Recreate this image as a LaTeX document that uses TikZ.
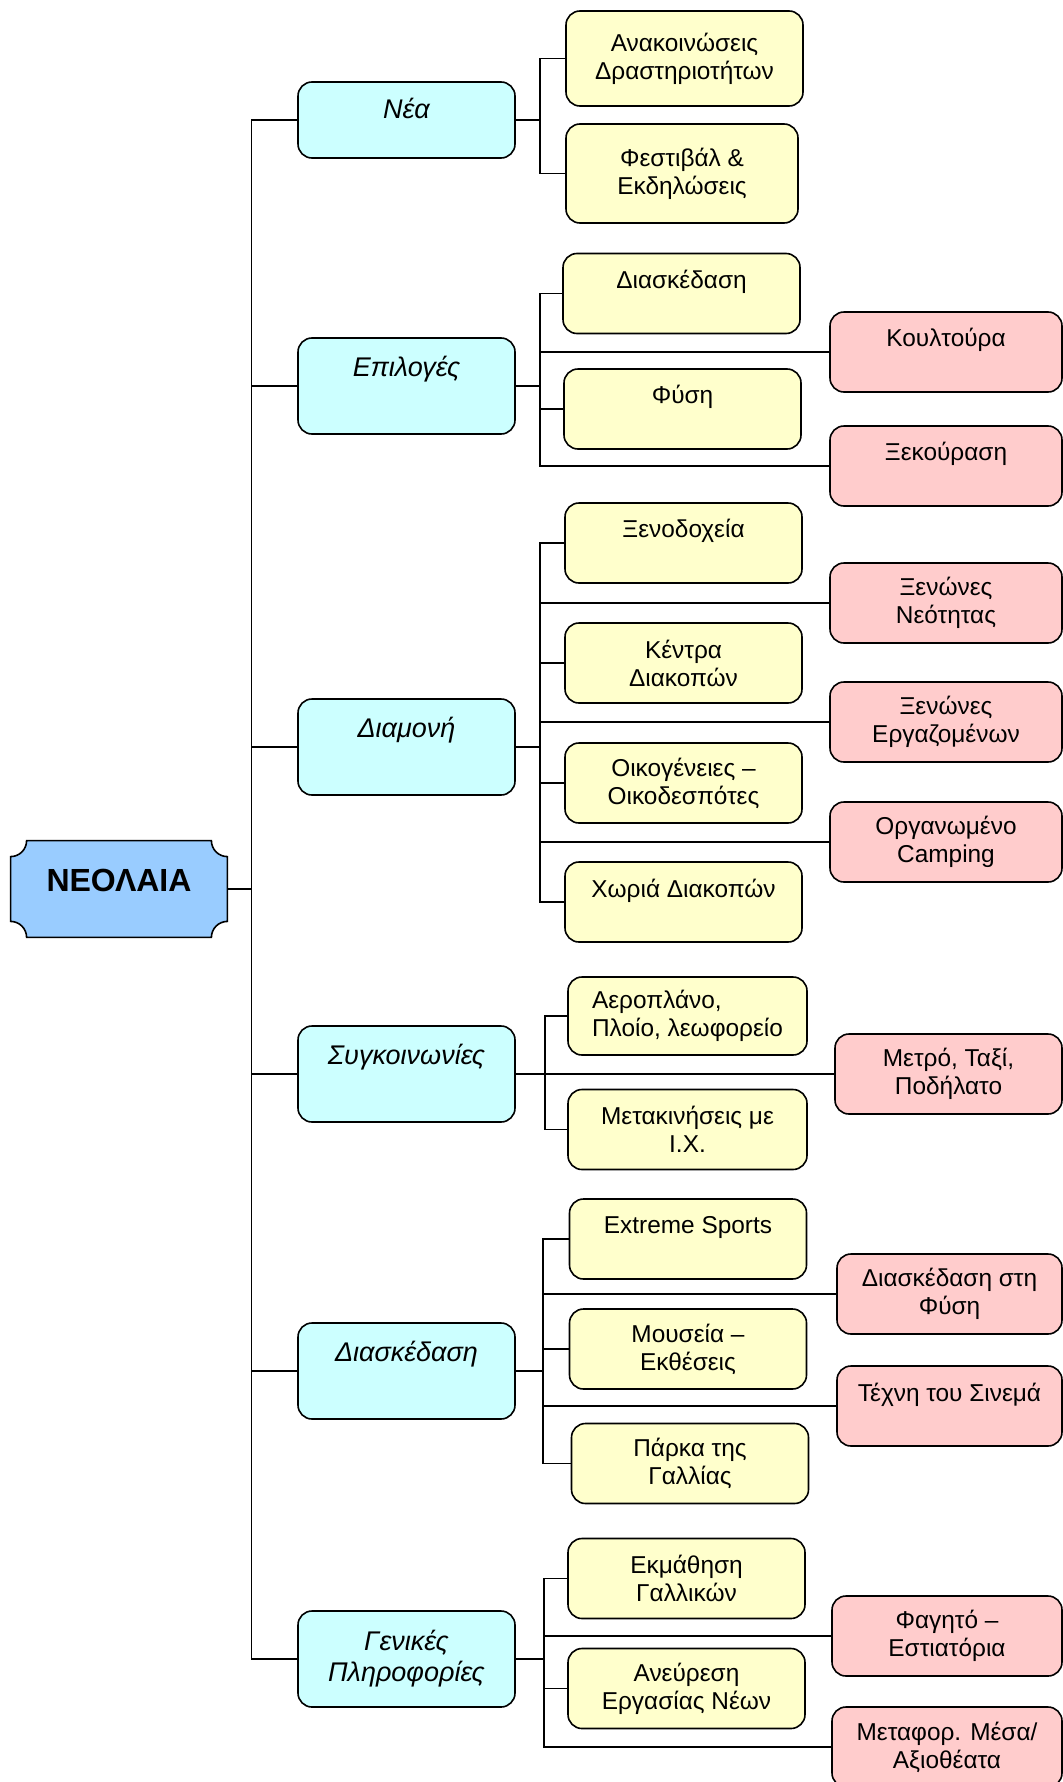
\documentclass[tikz,border=0pt]{standalone}
\usepackage{fontspec}
\setmainfont{Liberation Sans}
\usetikzlibrary{backgrounds}
\definecolor{rootblue}{HTML}{99CCFF}
\definecolor{topicblue}{HTML}{CCFFFF}
\definecolor{itemyellow}{HTML}{FFFFCC}
\definecolor{extrapink}{HTML}{FFCCCC}

\begin{document}
\begin{tikzpicture}[x=0.5pt,y=-0.5pt,
    every node/.style={inner sep=0pt,align=center},
    rootbox/.style={minimum width=108pt,minimum height=48pt,text depth=9pt,font=\fontsize{16}{18}\selectfont\bfseries},
    rootframe/.style={draw=black,line width=0.8pt,fill=rootblue},
    topicbox/.style={draw,line width=0.8pt,rounded corners=7pt,fill=topicblue,minimum width=108.5pt,minimum height=48pt,font=\fontsize{13.5}{15.5}\selectfont\itshape},
    itembox/.style={draw,line width=0.8pt,rounded corners=7pt,fill=itemyellow,minimum width=118.5pt,minimum height=40pt,font=\fontsize{12.2}{14}\selectfont},
    extrabox/.style={draw,line width=0.8pt,rounded corners=7pt,fill=extrapink,minimum width=116pt,minimum height=40pt,font=\fontsize{12.2}{14}\selectfont},
    link/.style={line width=0.8pt}]
  \useasboundingbox (0,0) rectangle (1063,1782);
  \node[rootbox] (root) at (119,889) {ΝΕΟΛΑΙΑ};
  \begin{scope}[on background layer]
    \draw[rootframe] ([xshift=8pt]root.north west) -- ([xshift=-8pt]root.north east)
      arc[start angle=180,end angle=270,radius=8pt] -- ([yshift=8pt]root.south east)
      arc[start angle=90,end angle=180,radius=8pt] -- ([xshift=8pt]root.south west)
      arc[start angle=0,end angle=90,radius=8pt] -- ([yshift=-8pt]root.north west)
      arc[start angle=270,end angle=360,radius=8pt] -- cycle;
  \end{scope}

  \node[topicbox,minimum height=38pt] (nea) at (406.5,120) {Νέα\\[-8pt]\strut};
  \node[topicbox] (epiloges) at (406.5,386) {Επιλογές\\\strut};
  \node[topicbox] (diamoni) at (406.5,747) {Διαμονή\\\strut};
  \node[topicbox] (sygkoinonies) at (406.5,1074) {Συγκοινωνίες\\\strut};
  \node[topicbox] (diaskedasi) at (406.5,1371) {Διασκέδαση\\\strut};
  \node[topicbox] (genikes) at (406.5,1659) {Γενικές\\Πληροφορίες};

  \node[itembox,minimum height=47.5pt] (anakoinoseis) at (684.5,58.5) {Ανακοινώσεις\\Δραστηριοτήτων};
  \node[itembox,minimum width=116pt,minimum height=49.5pt] (festival) at (682,173.5) {Φεστιβάλ \&\\Εκδηλώσεις};

  \node[itembox] (epil-diaskedasi) at (681.5,293.5) {Διασκέδαση\\[-4pt]\strut};
  \node[extrabox] (koultoura) at (946,352) {Κουλτούρα\\[-4pt]\strut};
  \node[itembox] (fysi) at (682.5,409) {Φύση\\[-4pt]\strut};
  \node[extrabox] (xekourasi) at (946,466) {Ξεκούραση\\[-4pt]\strut};

  \node[itembox] (xenodoxeia) at (683.5,543) {Ξενοδοχεία\\[-4pt]\strut};
  \node[extrabox] (xenones-neot) at (946,603) {Ξενώνες\\Νεότητας};
  \node[itembox] (kentra) at (683.5,663) {Κέντρα\\Διακοπών};
  \node[extrabox] (xenones-ergaz) at (946,722) {Ξενώνες\\Εργαζομένων};
  \node[itembox] (oikogeneies) at (683.5,783) {Οικογένειες –\\Οικοδεσπότες};
  \node[extrabox] (camping) at (946,842) {Οργανωμένο\\Camping};
  \node[itembox] (xoria) at (683.5,902) {Χωριά Διακοπών\\[-4pt]\strut};

  \node[itembox,align=left,minimum width=119.5pt,minimum height=39pt] (aeroplano) at (687.5,1016) {Αεροπλάνο,\\Πλοίο, λεωφορείο};
  \node[itembox,minimum width=119.5pt] (metakiniseis) at (687.5,1129.5) {Μετακινήσεις με\\Ι.Χ.};
  \node[extrabox,minimum width=113.5pt] (metro) at (948.5,1074) {Μετρό, Ταξί,\\Ποδήλατο};

  \node[itembox] (extreme) at (688,1239) {Extreme Sports\\[-4pt]\strut};
  \node[extrabox,minimum width=112.5pt] (diask-fysi) at (949.5,1294) {Διασκέδαση στη\\Φύση};
  \node[itembox] (mouseia) at (688,1349) {Μουσεία –\\Εκθέσεις};
  \node[extrabox,minimum width=112.5pt] (sinema) at (949.5,1406) {Τέχνη του Σινεμά\\[-4pt]\strut};
  \node[itembox] (parka) at (690,1463.5) {Πάρκα της\\Γαλλίας};

  \node[itembox] (ekmathisi) at (686.5,1578.5) {Εκμάθηση\\Γαλλικών};
  \node[extrabox,minimum width=115pt] (fagito) at (947,1636) {Φαγητό –\\Εστιατόρια};
  \node[itembox] (anevresi) at (686.5,1688.5) {Ανεύρεση\\Εργασίας Νέων};
  \node[extrabox,minimum width=115pt] (metafores) at (947,1747) {Μεταφορ. Μέσα/\\Αξιοθέατα};

  \draw[link] (root.east) -- ++(24,0) |- (nea.west);
  \draw[link] (root.east) -- ++(24,0) |- (epiloges.west);
  \draw[link] (root.east) -- ++(24,0) |- (diamoni.west);
  \draw[link] (root.east) -- ++(24,0) |- (sygkoinonies.west);
  \draw[link] (root.east) -- ++(24,0) |- (diaskedasi.west);
  \draw[link] (root.east) -- ++(24,0) |- (genikes.west);

  \draw[link] (nea.east) -- ++(24,0) |- (anakoinoseis.west);
  \draw[link] (nea.east) -- ++(24,0) |- (festival.west);

  \draw[link] (epiloges.east) -- ++(24,0) |- (epil-diaskedasi.west);
  \draw[link] (epiloges.east) -- ++(24,0) |- (koultoura.west);
  \draw[link] (epiloges.east) -- ++(24,0) |- (fysi.west);
  \draw[link] (epiloges.east) -- ++(24,0) |- (xekourasi.west);

  \draw[link] (diamoni.east) -- ++(24,0) |- (xenodoxeia.west);
  \draw[link] (diamoni.east) -- ++(24,0) |- (xenones-neot.west);
  \draw[link] (diamoni.east) -- ++(24,0) |- (kentra.west);
  \draw[link] (diamoni.east) -- ++(24,0) |- (xenones-ergaz.west);
  \draw[link] (diamoni.east) -- ++(24,0) |- (oikogeneies.west);
  \draw[link] (diamoni.east) -- ++(24,0) |- (camping.west);
  \draw[link] (diamoni.east) -- ++(24,0) |- (xoria.west);

  \draw[link] (sygkoinonies.east) -- ++(29,0) |- (aeroplano.west);
  \draw[link] (sygkoinonies.east) -- ++(29,0) |- (metakiniseis.west);
  \draw[link] (sygkoinonies.east) -- (metro.west);

  \draw[link] (diaskedasi.east) -- ++(27,0) |- (extreme.west);
  \draw[link] (diaskedasi.east) -- ++(27,0) |- (diask-fysi.west);
  \draw[link] (diaskedasi.east) -- ++(27,0) |- (mouseia.west);
  \draw[link] (diaskedasi.east) -- ++(27,0) |- (sinema.west);
  \draw[link] (diaskedasi.east) -- ++(27,0) |- (parka.west);

  \draw[link] (genikes.east) -- ++(28,0) |- (ekmathisi.west);
  \draw[link] (genikes.east) -- ++(28,0) |- (fagito.west);
  \draw[link] (genikes.east) -- ++(28,0) |- (anevresi.west);
  \draw[link] (genikes.east) -- ++(28,0) |- (metafores.west);
\end{tikzpicture}
\end{document}
